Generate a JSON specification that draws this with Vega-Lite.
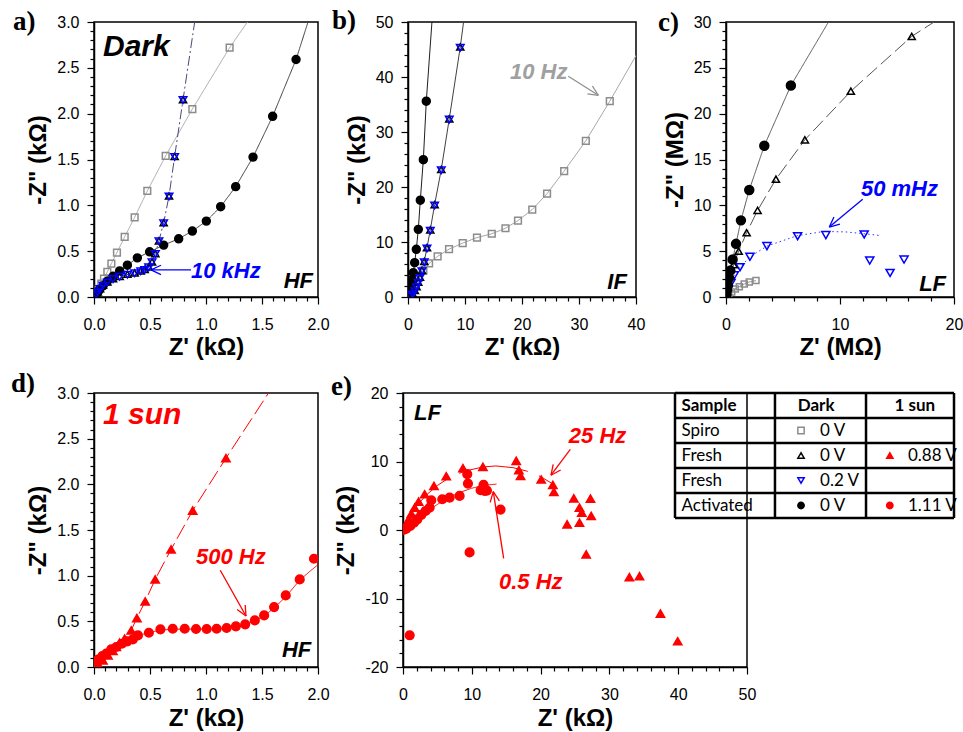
{
"$schema": "https://vega.github.io/schema/vega-lite/v6.json",
"background": "white",
"padding": {"left": 10, "top": 6, "right": 5, "bottom": 5},
"config": {
  "view": {"stroke": "black", "strokeWidth": 1.5},
  "axis": {"labelFont": "Liberation Sans", "labelFontSize": 16, "labelColor": "black", "titleFont": "Liberation Sans", "titleFontSize": 24, "titleFontWeight": "bold", "titleColor": "black", "domainColor": "black", "domainWidth": 1.5, "tickColor": "black", "tickWidth": 1.2, "labelFlush": false, "labelOverlap": false, "labelBound": false, "grid": false},
  "axisX": {"labelPadding": 12, "titlePadding": 4},
  "axisY": {"labelPadding": 8, "titlePadding": 6},
  "title": {"font": "Liberation Serif", "fontSize": 27, "fontWeight": "bold", "color": "black", "anchor": "start", "frame": "group", "baseline": "alphabetic", "offset": 0}
},
"datasets": {
  "pts": [
    {"p":"a","s":"Spiro 0V","x":1.211,"y":2.72},{"p":"a","s":"Spiro 0V","x":0.878,"y":2.05},{"p":"a","s":"Spiro 0V","x":0.64,"y":1.54},{"p":"a","s":"Spiro 0V","x":0.476,"y":1.157},{"p":"a","s":"Spiro 0V","x":0.363,"y":0.869},{"p":"a","s":"Spiro 0V","x":0.274,"y":0.657},{"p":"a","s":"Spiro 0V","x":0.205,"y":0.485},{"p":"a","s":"Spiro 0V","x":0.155,"y":0.365},{"p":"a","s":"Spiro 0V","x":0.119,"y":0.274},{"p":"a","s":"Spiro 0V","x":0.089,"y":0.2},{"p":"a","s":"Spiro 0V","x":0.065,"y":0.146},{"p":"a","s":"Spiro 0V","x":0.042,"y":0.09},{"p":"a","s":"Spiro 0V","x":0.02,"y":0.044},
    {"p":"a","s":"Activated 0V","x":1.804,"y":2.591},{"p":"a","s":"Activated 0V","x":1.595,"y":1.971},{"p":"a","s":"Activated 0V","x":1.42,"y":1.526},{"p":"a","s":"Activated 0V","x":1.265,"y":1.204},{"p":"a","s":"Activated 0V","x":1.131,"y":0.985},{"p":"a","s":"Activated 0V","x":1.003,"y":0.828},{"p":"a","s":"Activated 0V","x":0.878,"y":0.719},{"p":"a","s":"Activated 0V","x":0.756,"y":0.635},{"p":"a","s":"Activated 0V","x":0.622,"y":0.566},{"p":"a","s":"Activated 0V","x":0.497,"y":0.493},{"p":"a","s":"Activated 0V","x":0.387,"y":0.427},{"p":"a","s":"Activated 0V","x":0.298,"y":0.347},{"p":"a","s":"Activated 0V","x":0.229,"y":0.285},{"p":"a","s":"Activated 0V","x":0.17,"y":0.226},{"p":"a","s":"Activated 0V","x":0.119,"y":0.172},{"p":"a","s":"Activated 0V","x":0.08,"y":0.12},{"p":"a","s":"Activated 0V","x":0.045,"y":0.073},{"p":"a","s":"Activated 0V","x":0.024,"y":0.036},
    {"p":"a","s":"Fresh 0V","x":0.795,"y":2.153},{"p":"a","s":"Fresh 0V","x":0.72,"y":1.533},{"p":"a","s":"Fresh 0V","x":0.67,"y":1.102},{"p":"a","s":"Fresh 0V","x":0.622,"y":0.81},{"p":"a","s":"Fresh 0V","x":0.58,"y":0.613},{"p":"a","s":"Fresh 0V","x":0.548,"y":0.474},{"p":"a","s":"Fresh 0V","x":0.518,"y":0.383},{"p":"a","s":"Fresh 0V","x":0.488,"y":0.328},{"p":"a","s":"Fresh 0V","x":0.452,"y":0.3},{"p":"a","s":"Fresh 0V","x":0.417,"y":0.285},{"p":"a","s":"Fresh 0V","x":0.363,"y":0.263},{"p":"a","s":"Fresh 0V","x":0.298,"y":0.248},{"p":"a","s":"Fresh 0V","x":0.229,"y":0.226},{"p":"a","s":"Fresh 0V","x":0.17,"y":0.2},{"p":"a","s":"Fresh 0V","x":0.119,"y":0.164},{"p":"a","s":"Fresh 0V","x":0.08,"y":0.128},{"p":"a","s":"Fresh 0V","x":0.054,"y":0.091},{"p":"a","s":"Fresh 0V","x":0.033,"y":0.055},{"p":"a","s":"Fresh 0V","x":0.02,"y":0.03},
    {"p":"a","s":"Fresh 0.2V","x":0.795,"y":2.148},{"p":"a","s":"Fresh 0.2V","x":0.72,"y":1.528},{"p":"a","s":"Fresh 0.2V","x":0.67,"y":1.097},{"p":"a","s":"Fresh 0.2V","x":0.622,"y":0.805},{"p":"a","s":"Fresh 0.2V","x":0.58,"y":0.608},{"p":"a","s":"Fresh 0.2V","x":0.548,"y":0.469},{"p":"a","s":"Fresh 0.2V","x":0.518,"y":0.378},{"p":"a","s":"Fresh 0.2V","x":0.488,"y":0.323},{"p":"a","s":"Fresh 0.2V","x":0.452,"y":0.295},{"p":"a","s":"Fresh 0.2V","x":0.417,"y":0.28},{"p":"a","s":"Fresh 0.2V","x":0.363,"y":0.258},{"p":"a","s":"Fresh 0.2V","x":0.298,"y":0.243},{"p":"a","s":"Fresh 0.2V","x":0.229,"y":0.221},{"p":"a","s":"Fresh 0.2V","x":0.17,"y":0.195},{"p":"a","s":"Fresh 0.2V","x":0.119,"y":0.159},{"p":"a","s":"Fresh 0.2V","x":0.08,"y":0.123},{"p":"a","s":"Fresh 0.2V","x":0.054,"y":0.086},{"p":"a","s":"Fresh 0.2V","x":0.033,"y":0.05},{"p":"a","s":"Fresh 0.2V","x":0.02,"y":0.025},
    {"p":"b","s":"Spiro 0V","x":35.4,"y":35.6},{"p":"b","s":"Spiro 0V","x":31.2,"y":28.4},{"p":"b","s":"Spiro 0V","x":27.4,"y":22.9},{"p":"b","s":"Spiro 0V","x":24.4,"y":18.8},{"p":"b","s":"Spiro 0V","x":21.8,"y":15.9},{"p":"b","s":"Spiro 0V","x":19.3,"y":13.9},{"p":"b","s":"Spiro 0V","x":17.1,"y":12.5},{"p":"b","s":"Spiro 0V","x":14.7,"y":11.5},{"p":"b","s":"Spiro 0V","x":12.1,"y":10.8},{"p":"b","s":"Spiro 0V","x":9.6,"y":9.8},{"p":"b","s":"Spiro 0V","x":7.2,"y":8.7},{"p":"b","s":"Spiro 0V","x":5.2,"y":7.4},{"p":"b","s":"Spiro 0V","x":3.7,"y":6.1},{"p":"b","s":"Spiro 0V","x":2.7,"y":4.8},{"p":"b","s":"Spiro 0V","x":1.9,"y":3.5},{"p":"b","s":"Spiro 0V","x":1.3,"y":2.4},{"p":"b","s":"Spiro 0V","x":0.8,"y":1.4},{"p":"b","s":"Spiro 0V","x":0.4,"y":0.6},
    {"p":"b","s":"Activated 0V","x":3.21,"y":35.6},{"p":"b","s":"Activated 0V","x":2.69,"y":24.97},{"p":"b","s":"Activated 0V","x":2.16,"y":17.6},{"p":"b","s":"Activated 0V","x":1.81,"y":12.3},{"p":"b","s":"Activated 0V","x":1.46,"y":8.67},{"p":"b","s":"Activated 0V","x":1.17,"y":6.24},{"p":"b","s":"Activated 0V","x":0.93,"y":4.42},{"p":"b","s":"Activated 0V","x":0.7,"y":3.15},{"p":"b","s":"Activated 0V","x":0.53,"y":2.3},{"p":"b","s":"Activated 0V","x":0.4,"y":1.5},{"p":"b","s":"Activated 0V","x":0.23,"y":0.8},{"p":"b","s":"Activated 0V","x":0.1,"y":0.3},
    {"p":"b","s":"Fresh 0V","x":9.17,"y":45.45},{"p":"b","s":"Fresh 0V","x":7.24,"y":32.4},{"p":"b","s":"Fresh 0V","x":5.84,"y":23.2},{"p":"b","s":"Fresh 0V","x":4.67,"y":16.8},{"p":"b","s":"Fresh 0V","x":3.91,"y":12.2},{"p":"b","s":"Fresh 0V","x":3.33,"y":8.97},{"p":"b","s":"Fresh 0V","x":2.86,"y":6.48},{"p":"b","s":"Fresh 0V","x":2.45,"y":4.85},{"p":"b","s":"Fresh 0V","x":2.1,"y":3.6},{"p":"b","s":"Fresh 0V","x":1.8,"y":2.7},{"p":"b","s":"Fresh 0V","x":1.5,"y":1.9},{"p":"b","s":"Fresh 0V","x":1.2,"y":1.2},{"p":"b","s":"Fresh 0V","x":0.8,"y":0.6},{"p":"b","s":"Fresh 0V","x":0.4,"y":0.2},
    {"p":"b","s":"Fresh 0.2V","x":9.17,"y":45.3},{"p":"b","s":"Fresh 0.2V","x":7.24,"y":32.25},{"p":"b","s":"Fresh 0.2V","x":5.84,"y":23.05},{"p":"b","s":"Fresh 0.2V","x":4.67,"y":16.65},{"p":"b","s":"Fresh 0.2V","x":3.91,"y":12.05},{"p":"b","s":"Fresh 0.2V","x":3.33,"y":8.82},{"p":"b","s":"Fresh 0.2V","x":2.86,"y":6.33},{"p":"b","s":"Fresh 0.2V","x":2.45,"y":4.7},{"p":"b","s":"Fresh 0.2V","x":2.1,"y":3.45},{"p":"b","s":"Fresh 0.2V","x":1.8,"y":2.55},{"p":"b","s":"Fresh 0.2V","x":1.5,"y":1.75},{"p":"b","s":"Fresh 0.2V","x":1.2,"y":1.05},{"p":"b","s":"Fresh 0.2V","x":0.8,"y":0.45},{"p":"b","s":"Fresh 0.2V","x":0.4,"y":0.1},
    {"p":"c","s":"Spiro 0V","x":2.63,"y":1.79},{"p":"c","s":"Spiro 0V","x":2.04,"y":1.64},{"p":"c","s":"Spiro 0V","x":1.6,"y":1.42},{"p":"c","s":"Spiro 0V","x":1.17,"y":1.13},{"p":"c","s":"Spiro 0V","x":0.82,"y":0.88},{"p":"c","s":"Spiro 0V","x":0.5,"y":0.55},{"p":"c","s":"Spiro 0V","x":0.23,"y":0.26},
    {"p":"c","s":"Fresh 0.2V","x":12.12,"y":6.82},{"p":"c","s":"Fresh 0.2V","x":8.76,"y":6.75},{"p":"c","s":"Fresh 0.2V","x":6.28,"y":6.64},{"p":"c","s":"Fresh 0.2V","x":3.59,"y":5.55},{"p":"c","s":"Fresh 0.2V","x":2.1,"y":4.38},{"p":"c","s":"Fresh 0.2V","x":1.23,"y":3.25},{"p":"c","s":"Fresh 0.2V","x":0.73,"y":2.37},{"p":"c","s":"Fresh 0.2V","x":0.44,"y":1.53},{"p":"c","s":"Fresh 0.2V","x":0.2,"y":0.8},{"p":"c","s":"Fresh 0.2V","x":12.61,"y":3.98},{"p":"c","s":"Fresh 0.2V","x":14.39,"y":2.63},{"p":"c","s":"Fresh 0.2V","x":15.62,"y":4.09},
    {"p":"c","s":"Fresh 0V","x":16.29,"y":28.43},{"p":"c","s":"Fresh 0V","x":10.95,"y":22.45},{"p":"c","s":"Fresh 0V","x":6.92,"y":17.15},{"p":"c","s":"Fresh 0V","x":4.38,"y":12.85},{"p":"c","s":"Fresh 0V","x":2.77,"y":9.45},{"p":"c","s":"Fresh 0V","x":1.81,"y":7.01},{"p":"c","s":"Fresh 0V","x":1.11,"y":5.0},{"p":"c","s":"Fresh 0V","x":0.67,"y":3.54},{"p":"c","s":"Fresh 0V","x":0.38,"y":2.45},{"p":"c","s":"Fresh 0V","x":0.2,"y":1.5},{"p":"c","s":"Fresh 0V","x":0.08,"y":0.7},
    {"p":"c","s":"Activated 0V","x":5.69,"y":23.07},{"p":"c","s":"Activated 0V","x":3.36,"y":16.5},{"p":"c","s":"Activated 0V","x":2.04,"y":11.68},{"p":"c","s":"Activated 0V","x":1.31,"y":8.36},{"p":"c","s":"Activated 0V","x":0.88,"y":5.8},{"p":"c","s":"Activated 0V","x":0.58,"y":4.09},{"p":"c","s":"Activated 0V","x":0.38,"y":2.88},{"p":"c","s":"Activated 0V","x":0.23,"y":2.0},{"p":"c","s":"Activated 0V","x":0.15,"y":1.35},{"p":"c","s":"Activated 0V","x":0.09,"y":0.73},{"p":"c","s":"Activated 0V","x":0.03,"y":0.25},
    {"p":"d","s":"Fresh 0.88V","x":1.178,"y":2.286},{"p":"d","s":"Fresh 0.88V","x":0.881,"y":1.713},{"p":"d","s":"Fresh 0.88V","x":0.688,"y":1.287},{"p":"d","s":"Fresh 0.88V","x":0.546,"y":0.959},{"p":"d","s":"Fresh 0.88V","x":0.457,"y":0.718},{"p":"d","s":"Fresh 0.88V","x":0.383,"y":0.536},{"p":"d","s":"Fresh 0.88V","x":0.332,"y":0.401},{"p":"d","s":"Fresh 0.88V","x":0.273,"y":0.31},{"p":"d","s":"Fresh 0.88V","x":0.228,"y":0.266},{"p":"d","s":"Fresh 0.88V","x":0.199,"y":0.219},{"p":"d","s":"Fresh 0.88V","x":0.169,"y":0.175},{"p":"d","s":"Fresh 0.88V","x":0.125,"y":0.128},{"p":"d","s":"Fresh 0.88V","x":0.08,"y":0.073},{"p":"d","s":"Fresh 0.88V","x":0.036,"y":0.036},
    {"p":"d","s":"Activated 1.11V","x":1.964,"y":1.185},{"p":"d","s":"Activated 1.11V","x":1.837,"y":0.959},{"p":"d","s":"Activated 1.11V","x":1.712,"y":0.784},{"p":"d","s":"Activated 1.11V","x":1.608,"y":0.656},{"p":"d","s":"Activated 1.11V","x":1.519,"y":0.565},{"p":"d","s":"Activated 1.11V","x":1.436,"y":0.51},{"p":"d","s":"Activated 1.11V","x":1.35,"y":0.467},{"p":"d","s":"Activated 1.11V","x":1.267,"y":0.445},{"p":"d","s":"Activated 1.11V","x":1.184,"y":0.427},{"p":"d","s":"Activated 1.11V","x":1.095,"y":0.419},{"p":"d","s":"Activated 1.11V","x":1.006,"y":0.416},{"p":"d","s":"Activated 1.11V","x":0.911,"y":0.416},{"p":"d","s":"Activated 1.11V","x":0.81,"y":0.419},{"p":"d","s":"Activated 1.11V","x":0.703,"y":0.419},{"p":"d","s":"Activated 1.11V","x":0.593,"y":0.412},{"p":"d","s":"Activated 1.11V","x":0.49,"y":0.375},{"p":"d","s":"Activated 1.11V","x":0.392,"y":0.346},{"p":"d","s":"Activated 1.11V","x":0.347,"y":0.303},{"p":"d","s":"Activated 1.11V","x":0.297,"y":0.281},{"p":"d","s":"Activated 1.11V","x":0.249,"y":0.255},{"p":"d","s":"Activated 1.11V","x":0.199,"y":0.219},{"p":"d","s":"Activated 1.11V","x":0.154,"y":0.193},{"p":"d","s":"Activated 1.11V","x":0.11,"y":0.146},{"p":"d","s":"Activated 1.11V","x":0.074,"y":0.12},{"p":"d","s":"Activated 1.11V","x":0.036,"y":0.08},{"p":"d","s":"Activated 1.11V","x":0.012,"y":0.036},
    {"p":"e","s":"Fresh 0.88V","x":39.93,"y":-16.24},{"p":"e","s":"Fresh 0.88V","x":37.42,"y":-12.2},{"p":"e","s":"Fresh 0.88V","x":34.37,"y":-6.73},{"p":"e","s":"Fresh 0.88V","x":32.9,"y":-6.88},{"p":"e","s":"Fresh 0.88V","x":26.62,"y":-3.56},{"p":"e","s":"Fresh 0.88V","x":27.35,"y":2.05},{"p":"e","s":"Fresh 0.88V","x":27.25,"y":4.59},{"p":"e","s":"Fresh 0.88V","x":25.65,"y":3.27},{"p":"e","s":"Fresh 0.88V","x":25.99,"y":2.54},{"p":"e","s":"Fresh 0.88V","x":24.83,"y":4.63},{"p":"e","s":"Fresh 0.88V","x":25.65,"y":1.07},{"p":"e","s":"Fresh 0.88V","x":23.86,"y":0.83},{"p":"e","s":"Fresh 0.88V","x":21.93,"y":5.56},{"p":"e","s":"Fresh 0.88V","x":21.78,"y":6.59},{"p":"e","s":"Fresh 0.88V","x":20.09,"y":7.37},{"p":"e","s":"Fresh 0.88V","x":17.09,"y":7.9},{"p":"e","s":"Fresh 0.88V","x":16.84,"y":8.73},{"p":"e","s":"Fresh 0.88V","x":16.46,"y":10.1},{"p":"e","s":"Fresh 0.88V","x":11.62,"y":9.22},{"p":"e","s":"Fresh 0.88V","x":8.71,"y":9.02},{"p":"e","s":"Fresh 0.88V","x":6.29,"y":7.85},{"p":"e","s":"Fresh 0.88V","x":4.5,"y":6.44},{"p":"e","s":"Fresh 0.88V","x":3.15,"y":5.22},{"p":"e","s":"Fresh 0.88V","x":2.27,"y":4.15},{"p":"e","s":"Fresh 0.88V","x":1.69,"y":3.27},{"p":"e","s":"Fresh 0.88V","x":1.21,"y":2.39},{"p":"e","s":"Fresh 0.88V","x":0.82,"y":1.56},{"p":"e","s":"Fresh 0.88V","x":0.48,"y":0.83},{"p":"e","s":"Fresh 0.88V","x":0.15,"y":0.24},
    {"p":"e","s":"Activated 1.11V","x":0.97,"y":-15.37},{"p":"e","s":"Activated 1.11V","x":9.68,"y":-3.27},{"p":"e","s":"Activated 1.11V","x":14.18,"y":2.98},{"p":"e","s":"Activated 1.11V","x":11.86,"y":5.71},{"p":"e","s":"Activated 1.11V","x":11.71,"y":6.59},{"p":"e","s":"Activated 1.11V","x":11.28,"y":5.8},{"p":"e","s":"Activated 1.11V","x":12.2,"y":5.75},{"p":"e","s":"Activated 1.11V","x":9.44,"y":6.78},{"p":"e","s":"Activated 1.11V","x":9.34,"y":8.15},{"p":"e","s":"Activated 1.11V","x":8.23,"y":4.98},{"p":"e","s":"Activated 1.11V","x":6.78,"y":4.73},{"p":"e","s":"Activated 1.11V","x":5.71,"y":4.49},{"p":"e","s":"Activated 1.11V","x":4.11,"y":4.34},{"p":"e","s":"Activated 1.11V","x":3.87,"y":3.27},{"p":"e","s":"Activated 1.11V","x":3.29,"y":2.78},{"p":"e","s":"Activated 1.11V","x":2.66,"y":2.2},{"p":"e","s":"Activated 1.11V","x":2.08,"y":1.56},{"p":"e","s":"Activated 1.11V","x":1.6,"y":1.07},{"p":"e","s":"Activated 1.11V","x":1.06,"y":0.59},{"p":"e","s":"Activated 1.11V","x":0.48,"y":0.2},{"p":"e","s":"Activated 1.11V","x":0.15,"y":0.05}
  ],
  "fit": [
    {"p":"a","s":"Spiro 0V","x":0,"y":0},{"p":"a","s":"Spiro 0V","x":0.02,"y":0.044},{"p":"a","s":"Spiro 0V","x":0.065,"y":0.146},{"p":"a","s":"Spiro 0V","x":0.119,"y":0.274},{"p":"a","s":"Spiro 0V","x":0.155,"y":0.365},{"p":"a","s":"Spiro 0V","x":0.205,"y":0.485},{"p":"a","s":"Spiro 0V","x":0.274,"y":0.657},{"p":"a","s":"Spiro 0V","x":0.363,"y":0.869},{"p":"a","s":"Spiro 0V","x":0.476,"y":1.157},{"p":"a","s":"Spiro 0V","x":0.64,"y":1.54},{"p":"a","s":"Spiro 0V","x":0.878,"y":2.05},{"p":"a","s":"Spiro 0V","x":1.211,"y":2.72},{"p":"a","s":"Spiro 0V","x":1.37,"y":3.0},{"p":"a","s":"Spiro 0V","x":1.45,"y":3.15},
    {"p":"a","s":"Fresh 0V","x":0,"y":0},{"p":"a","s":"Fresh 0V","x":0.02,"y":0.03},{"p":"a","s":"Fresh 0V","x":0.054,"y":0.091},{"p":"a","s":"Fresh 0V","x":0.119,"y":0.164},{"p":"a","s":"Fresh 0V","x":0.229,"y":0.226},{"p":"a","s":"Fresh 0V","x":0.363,"y":0.263},{"p":"a","s":"Fresh 0V","x":0.452,"y":0.3},{"p":"a","s":"Fresh 0V","x":0.518,"y":0.383},{"p":"a","s":"Fresh 0V","x":0.548,"y":0.474},{"p":"a","s":"Fresh 0V","x":0.58,"y":0.613},{"p":"a","s":"Fresh 0V","x":0.622,"y":0.81},{"p":"a","s":"Fresh 0V","x":0.67,"y":1.102},{"p":"a","s":"Fresh 0V","x":0.72,"y":1.533},{"p":"a","s":"Fresh 0V","x":0.795,"y":2.153},{"p":"a","s":"Fresh 0V","x":0.899,"y":3.0},{"p":"a","s":"Fresh 0V","x":0.92,"y":3.2},
    {"p":"a","s":"Activated 0V","x":0,"y":0},{"p":"a","s":"Activated 0V","x":0.024,"y":0.036},{"p":"a","s":"Activated 0V","x":0.08,"y":0.12},{"p":"a","s":"Activated 0V","x":0.17,"y":0.226},{"p":"a","s":"Activated 0V","x":0.298,"y":0.347},{"p":"a","s":"Activated 0V","x":0.387,"y":0.427},{"p":"a","s":"Activated 0V","x":0.497,"y":0.493},{"p":"a","s":"Activated 0V","x":0.622,"y":0.566},{"p":"a","s":"Activated 0V","x":0.756,"y":0.635},{"p":"a","s":"Activated 0V","x":0.878,"y":0.719},{"p":"a","s":"Activated 0V","x":1.003,"y":0.828},{"p":"a","s":"Activated 0V","x":1.131,"y":0.985},{"p":"a","s":"Activated 0V","x":1.265,"y":1.204},{"p":"a","s":"Activated 0V","x":1.42,"y":1.526},{"p":"a","s":"Activated 0V","x":1.595,"y":1.971},{"p":"a","s":"Activated 0V","x":1.804,"y":2.591},{"p":"a","s":"Activated 0V","x":1.911,"y":3.0},{"p":"a","s":"Activated 0V","x":1.95,"y":3.15},
    {"p":"b","s":"Spiro 0V","x":0,"y":0},{"p":"b","s":"Spiro 0V","x":0.4,"y":0.6},{"p":"b","s":"Spiro 0V","x":0.8,"y":1.4},{"p":"b","s":"Spiro 0V","x":1.3,"y":2.4},{"p":"b","s":"Spiro 0V","x":1.9,"y":3.5},{"p":"b","s":"Spiro 0V","x":2.7,"y":4.8},{"p":"b","s":"Spiro 0V","x":3.7,"y":6.1},{"p":"b","s":"Spiro 0V","x":5.2,"y":7.4},{"p":"b","s":"Spiro 0V","x":7.2,"y":8.7},{"p":"b","s":"Spiro 0V","x":9.6,"y":9.8},{"p":"b","s":"Spiro 0V","x":12.1,"y":10.8},{"p":"b","s":"Spiro 0V","x":14.7,"y":11.5},{"p":"b","s":"Spiro 0V","x":17.1,"y":12.5},{"p":"b","s":"Spiro 0V","x":19.3,"y":13.9},{"p":"b","s":"Spiro 0V","x":21.8,"y":15.9},{"p":"b","s":"Spiro 0V","x":24.4,"y":18.8},{"p":"b","s":"Spiro 0V","x":27.4,"y":22.9},{"p":"b","s":"Spiro 0V","x":31.2,"y":28.4},{"p":"b","s":"Spiro 0V","x":35.4,"y":35.6},{"p":"b","s":"Spiro 0V","x":40,"y":43.9},{"p":"b","s":"Spiro 0V","x":42,"y":47.5},
    {"p":"b","s":"Fresh 0V","x":0,"y":0},{"p":"b","s":"Fresh 0V","x":0.4,"y":0.2},{"p":"b","s":"Fresh 0V","x":0.8,"y":0.6},{"p":"b","s":"Fresh 0V","x":1.2,"y":1.2},{"p":"b","s":"Fresh 0V","x":1.5,"y":1.9},{"p":"b","s":"Fresh 0V","x":1.8,"y":2.7},{"p":"b","s":"Fresh 0V","x":2.1,"y":3.6},{"p":"b","s":"Fresh 0V","x":2.45,"y":4.85},{"p":"b","s":"Fresh 0V","x":2.86,"y":6.48},{"p":"b","s":"Fresh 0V","x":3.33,"y":8.97},{"p":"b","s":"Fresh 0V","x":3.91,"y":12.2},{"p":"b","s":"Fresh 0V","x":4.67,"y":16.8},{"p":"b","s":"Fresh 0V","x":5.84,"y":23.2},{"p":"b","s":"Fresh 0V","x":7.24,"y":32.4},{"p":"b","s":"Fresh 0V","x":9.17,"y":45.45},{"p":"b","s":"Fresh 0V","x":9.75,"y":50},{"p":"b","s":"Fresh 0V","x":10,"y":52},
    {"p":"b","s":"Activated 0V","x":0,"y":0},{"p":"b","s":"Activated 0V","x":0.1,"y":0.3},{"p":"b","s":"Activated 0V","x":0.23,"y":0.8},{"p":"b","s":"Activated 0V","x":0.4,"y":1.5},{"p":"b","s":"Activated 0V","x":0.53,"y":2.3},{"p":"b","s":"Activated 0V","x":0.7,"y":3.15},{"p":"b","s":"Activated 0V","x":0.93,"y":4.42},{"p":"b","s":"Activated 0V","x":1.17,"y":6.24},{"p":"b","s":"Activated 0V","x":1.46,"y":8.67},{"p":"b","s":"Activated 0V","x":1.81,"y":12.3},{"p":"b","s":"Activated 0V","x":2.16,"y":17.6},{"p":"b","s":"Activated 0V","x":2.69,"y":24.97},{"p":"b","s":"Activated 0V","x":3.21,"y":35.6},{"p":"b","s":"Activated 0V","x":4.2,"y":50},{"p":"b","s":"Activated 0V","x":4.3,"y":52},
    {"p":"c","s":"Activated 0V","x":0,"y":0},{"p":"c","s":"Activated 0V","x":0.03,"y":0.25},{"p":"c","s":"Activated 0V","x":0.09,"y":0.73},{"p":"c","s":"Activated 0V","x":0.15,"y":1.35},{"p":"c","s":"Activated 0V","x":0.23,"y":2.0},{"p":"c","s":"Activated 0V","x":0.38,"y":2.88},{"p":"c","s":"Activated 0V","x":0.58,"y":4.09},{"p":"c","s":"Activated 0V","x":0.88,"y":5.8},{"p":"c","s":"Activated 0V","x":1.31,"y":8.36},{"p":"c","s":"Activated 0V","x":2.04,"y":11.68},{"p":"c","s":"Activated 0V","x":3.36,"y":16.5},{"p":"c","s":"Activated 0V","x":5.69,"y":23.07},{"p":"c","s":"Activated 0V","x":8.99,"y":30},{"p":"c","s":"Activated 0V","x":9.5,"y":31},
    {"p":"c","s":"Fresh 0V","x":0,"y":0},{"p":"c","s":"Fresh 0V","x":0.08,"y":0.7},{"p":"c","s":"Fresh 0V","x":0.2,"y":1.5},{"p":"c","s":"Fresh 0V","x":0.38,"y":2.45},{"p":"c","s":"Fresh 0V","x":0.67,"y":3.54},{"p":"c","s":"Fresh 0V","x":1.11,"y":5.0},{"p":"c","s":"Fresh 0V","x":1.81,"y":7.01},{"p":"c","s":"Fresh 0V","x":2.77,"y":9.45},{"p":"c","s":"Fresh 0V","x":4.38,"y":12.85},{"p":"c","s":"Fresh 0V","x":6.92,"y":17.15},{"p":"c","s":"Fresh 0V","x":10.95,"y":22.45},{"p":"c","s":"Fresh 0V","x":16.29,"y":28.43},{"p":"c","s":"Fresh 0V","x":18.25,"y":30},{"p":"c","s":"Fresh 0V","x":19,"y":30.6},
    {"p":"c","s":"Fresh 0.2V","x":0,"y":0},{"p":"c","s":"Fresh 0.2V","x":0.2,"y":0.8},{"p":"c","s":"Fresh 0.2V","x":0.44,"y":1.53},{"p":"c","s":"Fresh 0.2V","x":0.73,"y":2.37},{"p":"c","s":"Fresh 0.2V","x":1.23,"y":3.25},{"p":"c","s":"Fresh 0.2V","x":2.1,"y":4.38},{"p":"c","s":"Fresh 0.2V","x":3.59,"y":5.55},{"p":"c","s":"Fresh 0.2V","x":6.28,"y":6.7},{"p":"c","s":"Fresh 0.2V","x":8.6,"y":7.15},{"p":"c","s":"Fresh 0.2V","x":10.5,"y":7.1},{"p":"c","s":"Fresh 0.2V","x":12.12,"y":6.9},{"p":"c","s":"Fresh 0.2V","x":13.6,"y":6.7},
    {"p":"c","s":"Spiro 0V","x":0,"y":0},{"p":"c","s":"Spiro 0V","x":0.23,"y":0.26},{"p":"c","s":"Spiro 0V","x":0.5,"y":0.55},{"p":"c","s":"Spiro 0V","x":0.82,"y":0.88},{"p":"c","s":"Spiro 0V","x":1.17,"y":1.13},{"p":"c","s":"Spiro 0V","x":1.6,"y":1.42},{"p":"c","s":"Spiro 0V","x":2.04,"y":1.64},{"p":"c","s":"Spiro 0V","x":2.63,"y":1.79},
    {"p":"d","s":"Fresh 0.88V","x":0.2,"y":0.2},{"p":"d","s":"Fresh 0.88V","x":0.273,"y":0.31},{"p":"d","s":"Fresh 0.88V","x":0.332,"y":0.401},{"p":"d","s":"Fresh 0.88V","x":0.383,"y":0.536},{"p":"d","s":"Fresh 0.88V","x":0.457,"y":0.718},{"p":"d","s":"Fresh 0.88V","x":0.546,"y":0.959},{"p":"d","s":"Fresh 0.88V","x":0.688,"y":1.287},{"p":"d","s":"Fresh 0.88V","x":0.881,"y":1.713},{"p":"d","s":"Fresh 0.88V","x":1.178,"y":2.286},{"p":"d","s":"Fresh 0.88V","x":1.558,"y":3.0},{"p":"d","s":"Fresh 0.88V","x":1.6,"y":3.08},
    {"p":"d","s":"Activated 1.11V","x":0,"y":0},{"p":"d","s":"Activated 1.11V","x":0.036,"y":0.08},{"p":"d","s":"Activated 1.11V","x":0.11,"y":0.146},{"p":"d","s":"Activated 1.11V","x":0.199,"y":0.219},{"p":"d","s":"Activated 1.11V","x":0.297,"y":0.281},{"p":"d","s":"Activated 1.11V","x":0.392,"y":0.346},{"p":"d","s":"Activated 1.11V","x":0.49,"y":0.375},{"p":"d","s":"Activated 1.11V","x":0.593,"y":0.405},{"p":"d","s":"Activated 1.11V","x":0.703,"y":0.413},{"p":"d","s":"Activated 1.11V","x":0.81,"y":0.415},{"p":"d","s":"Activated 1.11V","x":0.911,"y":0.414},{"p":"d","s":"Activated 1.11V","x":1.006,"y":0.414},{"p":"d","s":"Activated 1.11V","x":1.095,"y":0.418},{"p":"d","s":"Activated 1.11V","x":1.184,"y":0.425},{"p":"d","s":"Activated 1.11V","x":1.267,"y":0.44},{"p":"d","s":"Activated 1.11V","x":1.35,"y":0.465},{"p":"d","s":"Activated 1.11V","x":1.436,"y":0.505},{"p":"d","s":"Activated 1.11V","x":1.519,"y":0.56},{"p":"d","s":"Activated 1.11V","x":1.608,"y":0.645},{"p":"d","s":"Activated 1.11V","x":1.712,"y":0.77},{"p":"d","s":"Activated 1.11V","x":1.837,"y":0.95},{"p":"d","s":"Activated 1.11V","x":1.92,"y":1.04},{"p":"d","s":"Activated 1.11V","x":2.0,"y":1.12},{"p":"d","s":"Activated 1.11V","x":2.1,"y":1.25},
    {"p":"e","s":"Fresh 0.88V","x":0,"y":0},{"p":"e","s":"Fresh 0.88V","x":0.5,"y":1.0},{"p":"e","s":"Fresh 0.88V","x":1.2,"y":2.3},{"p":"e","s":"Fresh 0.88V","x":2.2,"y":3.8},{"p":"e","s":"Fresh 0.88V","x":3.5,"y":5.2},{"p":"e","s":"Fresh 0.88V","x":5,"y":6.5},{"p":"e","s":"Fresh 0.88V","x":7,"y":7.8},{"p":"e","s":"Fresh 0.88V","x":9,"y":8.6},{"p":"e","s":"Fresh 0.88V","x":11.6,"y":9.2},{"p":"e","s":"Fresh 0.88V","x":13.5,"y":9.35},{"p":"e","s":"Fresh 0.88V","x":16,"y":9.1},{"p":"e","s":"Fresh 0.88V","x":18,"y":8.6},{"p":"e","s":"Fresh 0.88V","x":20,"y":7.8},{"p":"e","s":"Fresh 0.88V","x":21.8,"y":6.7},
    {"p":"e","s":"Activated 1.11V","x":0,"y":0},{"p":"e","s":"Activated 1.11V","x":0.5,"y":0.25},{"p":"e","s":"Activated 1.11V","x":1.5,"y":0.9},{"p":"e","s":"Activated 1.11V","x":3,"y":2.2},{"p":"e","s":"Activated 1.11V","x":4.5,"y":3.4},{"p":"e","s":"Activated 1.11V","x":6,"y":4.4},{"p":"e","s":"Activated 1.11V","x":8,"y":5.4},{"p":"e","s":"Activated 1.11V","x":10,"y":6.1},{"p":"e","s":"Activated 1.11V","x":12,"y":6.55},{"p":"e","s":"Activated 1.11V","x":13.6,"y":6.7}
  ],
  "ann": [
    {"p":"a","k":"big","t":"Dark","x":0.08,"y":2.63},{"p":"a","k":"tag","t":"HF","x":1.955,"y":0.1},{"p":"a","k":"freq","t":"10 kHz","x":0.866,"y":0.208},
    {"p":"b","k":"tag","t":"IF","x":38.4,"y":1.45},{"p":"b","k":"freq","t":"10 Hz","x":17.9,"y":39.6},
    {"p":"c","k":"tag","t":"LF","x":19.3,"y":0.66},{"p":"c","k":"freq","t":"50 mHz","x":11.84,"y":11.06},
    {"p":"d","k":"big","t":"1 sun","x":0.08,"y":2.66},{"p":"d","k":"tag","t":"HF","x":1.94,"y":0.11},{"p":"d","k":"freq","t":"500 Hz","x":0.91,"y":1.13},
    {"p":"e","k":"tag","t":"LF","x":1.6,"y":16.06},{"p":"e","k":"freq","t":"25 Hz","x":24.1,"y":12.7},{"p":"e","k":"freq","t":"0.5 Hz","x":13.95,"y":-8.6}
  ],
  "arr": [
    {"p":"a","x":0.866,"y":0.296,"x2":0.509,"y2":0.296},{"p":"a","x":0.509,"y":0.296,"x2":0.598,"y2":0.346},{"p":"a","x":0.509,"y":0.296,"x2":0.598,"y2":0.245},
    {"p":"b","x":28.12,"y":40.13,"x2":33.39,"y2":36.67},{"p":"b","x":33.39,"y":36.67,"x2":32.35,"y2":38.36},{"p":"b","x":33.39,"y":36.67,"x2":31.47,"y2":36.93},
    {"p":"c","x":11.99,"y":10.66,"x2":9.06,"y2":7.63},{"p":"c","x":9.06,"y":7.63,"x2":9.99,"y2":7.94},{"p":"c","x":9.06,"y":7.63,"x2":9.47,"y2":8.72},
    {"p":"d","x":1.127,"y":1.059,"x2":1.357,"y2":0.559},{"p":"d","x":1.357,"y":0.559,"x2":1.35,"y2":0.679},{"p":"d","x":1.357,"y":0.559,"x2":1.278,"y2":0.629},
    {"p":"e","x":24.32,"y":11.78,"x2":21.51,"y2":8.0},{"p":"e","x":21.51,"y":8.0,"x2":22.92,"y2":8.76},{"p":"e","x":21.51,"y":8.0,"x2":21.83,"y2":9.58},
    {"p":"e","x":14.63,"y":-4.13,"x2":13.12,"y2":5.6},{"p":"e","x":13.12,"y":5.6,"x2":12.67,"y2":4.04},{"p":"e","x":13.12,"y":5.6,"x2":14.01,"y2":4.26}
  ],
  "tgrid": [
    {"x":0,"x2":3,"y":0,"y2":0},{"x":0,"x2":3,"y":1,"y2":1},{"x":0,"x2":3,"y":2,"y2":2},{"x":0,"x2":3,"y":3,"y2":3},{"x":0,"x2":3,"y":4,"y2":4},{"x":0,"x2":3,"y":5,"y2":5},
    {"x":0,"x2":0,"y":0,"y2":5},{"x":1.075,"x2":1.075,"y":0,"y2":5},{"x":2.054,"x2":2.054,"y":0,"y2":5},{"x":3,"x2":3,"y":0,"y2":5}
  ],
  "thead": [
    {"t":"Sample","x":0.07,"y":0.5},{"t":"Dark","x":1.32,"y":0.5},{"t":"1 sun","x":2.36,"y":0.5}
  ],
  "ttext": [
    {"t":"Spiro","x":0.07,"y":1.5},{"t":"Fresh","x":0.07,"y":2.5},{"t":"Fresh","x":0.07,"y":3.5},{"t":"Activated","x":0.07,"y":4.5},
    {"t":"0 V","x":1.56,"y":1.5},{"t":"0 V","x":1.56,"y":2.5},{"t":"0.2 V","x":1.56,"y":3.5},{"t":"0 V","x":1.56,"y":4.5},
    {"t":"0.88 V","x":2.505,"y":2.5},{"t":"1.11 V","x":2.505,"y":4.5}
  ],
  "tsym": [
    {"s":"Spiro 0V","x":1.355,"y":1.5},{"s":"Fresh 0V","x":1.355,"y":2.5},{"s":"Fresh 0.2V","x":1.355,"y":3.5},{"s":"Activated 0V","x":1.355,"y":4.5},{"s":"Fresh 0.88V","x":2.31,"y":2.5},{"s":"Activated 1.11V","x":2.31,"y":4.5}
  ]
},
"spacing": 9,
"resolve": {"scale": {"color": "independent", "strokeDash": "independent", "size": "independent", "shape": "independent", "fill": "independent", "stroke": "independent"}},
"vconcat": [
 {"spacing": 90, "bounds": "flush",
  "resolve": {"scale": {"color": "independent", "strokeDash": "independent", "size": "independent", "shape": "independent", "fill": "independent", "stroke": "independent"}},
  "hconcat": [
  {
   "width": 224, "height": 275,
   "title": {"text": "a)", "dx": -81, "dy": 26},
   "encoding": {
    "x": {"field": "x", "type": "quantitative", "scale": {"domain": [0, 2], "nice": false}, "axis": {"title": "Z'  (kΩ)", "titlePadding": 3, "values": [0,0.1,0.2,0.3,0.4,0.5,0.6,0.7,0.8,0.9,1,1.1,1.2,1.3,1.4,1.5,1.6,1.7,1.8,1.9,2], "labelExpr": "round(datum.value*10)%5===0 ? format(datum.value,'.1f') : ''", "tickSize": {"condition": {"test": "round(datum.value*10)%5===0", "value": 7}, "value": 4}}},
    "y": {"field": "y", "type": "quantitative", "scale": {"domain": [0, 3], "nice": false}, "axis": {"title": "-Z\"  (kΩ)", "values": [0,0.1,0.2,0.3,0.4,0.5,0.6,0.7,0.8,0.9,1,1.1,1.2,1.3,1.4,1.5,1.6,1.7,1.8,1.9,2,2.1,2.2,2.3,2.4,2.5,2.6,2.7,2.8,2.9,3], "labelExpr": "round(datum.value*10)%5===0 ? format(datum.value,'.1f') : ''", "tickSize": {"condition": {"test": "round(datum.value*10)%5===0", "value": 7}, "value": 4}}}
   },
   "layer": [
    {"data": {"name": "fit"}, "transform": [{"filter": "datum.p==='a'"}], "mark": {"type": "line", "clip": true, "strokeWidth": 1},
     "encoding": {"color": {"field": "s", "type": "nominal", "scale": {"domain": ["Spiro 0V","Fresh 0V","Activated 0V"], "range": ["#a8a8a8","#4a4a78","#3a3a3a"]}, "legend": null},
                  "strokeDash": {"field": "s", "type": "nominal", "scale": {"domain": ["Spiro 0V","Fresh 0V","Activated 0V"], "range": [[1,0],[10,3,2,3],[1,0]]}, "legend": null}}},
    {"data": {"name": "pts"}, "transform": [{"filter": "datum.p==='a'"}], "mark": {"type": "point", "opacity": 1, "strokeWidth": 1.5, "clip": true},
     "encoding": {
      "shape": {"field": "s", "type": "nominal", "scale": {"domain": ["Spiro 0V","Fresh 0V","Fresh 0.2V","Activated 0V","Fresh 0.88V","Activated 1.11V"], "range": ["square","triangle-up","triangle-down","circle","triangle-up","circle"]}, "legend": null},
      "fill": {"field": "s", "type": "nominal", "scale": {"domain": ["Spiro 0V","Fresh 0V","Fresh 0.2V","Activated 0V","Fresh 0.88V","Activated 1.11V"], "range": ["transparent","transparent","transparent","black","red","red"]}, "legend": null},
      "stroke": {"field": "s", "type": "nominal", "scale": {"domain": ["Spiro 0V","Fresh 0V","Fresh 0.2V","Activated 0V","Fresh 0.88V","Activated 1.11V"], "range": ["#8c8c8c","black","blue","black","red","red"]}, "legend": null},
      "size": {"field": "s", "type": "ordinal", "scale": {"domain": ["Spiro 0V","Fresh 0V","Fresh 0.2V","Activated 0V","Fresh 0.88V","Activated 1.11V"], "range": [45,75,40,85,85,90]}, "legend": null}}},
    {"data": {"name": "ann"}, "transform": [{"filter": "datum.p==='a' && datum.k==='big'"}], "mark": {"type": "text", "font": "Liberation Sans", "fontSize": 30, "fontWeight": "bold", "fontStyle": "italic", "align": "left", "baseline": "alphabetic", "color": "black"}, "encoding": {"text": {"field": "t"}}},
    {"data": {"name": "ann"}, "transform": [{"filter": "datum.p==='a' && datum.k==='tag'"}], "mark": {"type": "text", "font": "Liberation Sans", "fontSize": 22, "fontWeight": "bold", "fontStyle": "italic", "align": "right", "baseline": "alphabetic", "color": "black"}, "encoding": {"text": {"field": "t"}}},
    {"data": {"name": "ann"}, "transform": [{"filter": "datum.p==='a' && datum.k==='freq'"}], "mark": {"type": "text", "font": "Liberation Sans", "fontSize": 22, "fontWeight": "bold", "fontStyle": "italic", "align": "left", "baseline": "alphabetic", "color": "blue"}, "encoding": {"text": {"field": "t"}}},
    {"data": {"name": "arr"}, "transform": [{"filter": "datum.p==='a'"}], "mark": {"type": "rule", "color": "blue", "strokeWidth": 1.3}, "encoding": {"x2": {"field": "x2"}, "y2": {"field": "y2"}}}
   ]
  },
  {
   "width": 228, "height": 275,
   "title": {"text": "b)", "dx": -76, "dy": 25},
   "encoding": {
    "x": {"field": "x", "type": "quantitative", "scale": {"domain": [0, 40], "nice": false}, "axis": {"title": "Z'  (kΩ)", "titlePadding": 3, "values": [0,2,4,6,8,10,12,14,16,18,20,22,24,26,28,30,32,34,36,38,40], "labelExpr": "datum.value%10===0 ? ''+datum.value : ''", "tickSize": {"condition": {"test": "datum.value%10===0", "value": 7}, "value": 4}}},
    "y": {"field": "y", "type": "quantitative", "scale": {"domain": [0, 50], "nice": false}, "axis": {"title": "-Z\"  (kΩ)", "values": [0,2,4,6,8,10,12,14,16,18,20,22,24,26,28,30,32,34,36,38,40,42,44,46,48,50], "labelExpr": "datum.value%10===0 ? ''+datum.value : ''", "tickSize": {"condition": {"test": "datum.value%10===0", "value": 7}, "value": 4}}}
   },
   "layer": [
    {"data": {"name": "fit"}, "transform": [{"filter": "datum.p==='b'"}], "mark": {"type": "line", "clip": true, "strokeWidth": 1},
     "encoding": {"color": {"field": "s", "type": "nominal", "scale": {"domain": ["Spiro 0V","Fresh 0V","Activated 0V"], "range": ["#a8a8a8","#404040","#202020"]}, "legend": null}}},
    {"data": {"name": "pts"}, "transform": [{"filter": "datum.p==='b'"}], "mark": {"type": "point", "opacity": 1, "strokeWidth": 1.5, "clip": true},
     "encoding": {
      "shape": {"field": "s", "type": "nominal", "scale": {"domain": ["Spiro 0V","Fresh 0V","Fresh 0.2V","Activated 0V","Fresh 0.88V","Activated 1.11V"], "range": ["square","triangle-up","triangle-down","circle","triangle-up","circle"]}, "legend": null},
      "fill": {"field": "s", "type": "nominal", "scale": {"domain": ["Spiro 0V","Fresh 0V","Fresh 0.2V","Activated 0V","Fresh 0.88V","Activated 1.11V"], "range": ["transparent","transparent","transparent","black","red","red"]}, "legend": null},
      "stroke": {"field": "s", "type": "nominal", "scale": {"domain": ["Spiro 0V","Fresh 0V","Fresh 0.2V","Activated 0V","Fresh 0.88V","Activated 1.11V"], "range": ["#8c8c8c","black","blue","black","red","red"]}, "legend": null},
      "size": {"field": "s", "type": "ordinal", "scale": {"domain": ["Spiro 0V","Fresh 0V","Fresh 0.2V","Activated 0V","Fresh 0.88V","Activated 1.11V"], "range": [45,75,40,65,85,90]}, "legend": null}}},
    {"data": {"name": "ann"}, "transform": [{"filter": "datum.p==='b' && datum.k==='tag'"}], "mark": {"type": "text", "font": "Liberation Sans", "fontSize": 22, "fontWeight": "bold", "fontStyle": "italic", "align": "right", "baseline": "alphabetic", "color": "black"}, "encoding": {"text": {"field": "t"}}},
    {"data": {"name": "ann"}, "transform": [{"filter": "datum.p==='b' && datum.k==='freq'"}], "mark": {"type": "text", "font": "Liberation Sans", "fontSize": 22, "fontWeight": "bold", "fontStyle": "italic", "align": "left", "baseline": "alphabetic", "color": "#a0a0a0"}, "encoding": {"text": {"field": "t"}}},
    {"data": {"name": "arr"}, "transform": [{"filter": "datum.p==='b'"}], "mark": {"type": "rule", "color": "#909090", "strokeWidth": 1.3}, "encoding": {"x2": {"field": "x2"}, "y2": {"field": "y2"}}}
   ]
  },
  {
   "width": 228, "height": 275,
   "title": {"text": "c)", "dx": -68, "dy": 27},
   "encoding": {
    "x": {"field": "x", "type": "quantitative", "scale": {"domain": [0, 20], "nice": false}, "axis": {"title": "Z'  (MΩ)", "titlePadding": 3, "values": [0,2,4,6,8,10,12,14,16,18,20], "labelExpr": "datum.value%10===0 ? ''+datum.value : ''", "tickSize": {"condition": {"test": "datum.value%10===0", "value": 7}, "value": 4}}},
    "y": {"field": "y", "type": "quantitative", "scale": {"domain": [0, 30], "nice": false}, "axis": {"title": "-Z\"  (MΩ)", "values": [0,1,2,3,4,5,6,7,8,9,10,11,12,13,14,15,16,17,18,19,20,21,22,23,24,25,26,27,28,29,30], "labelExpr": "datum.value%5===0 ? ''+datum.value : ''", "tickSize": {"condition": {"test": "datum.value%5===0", "value": 7}, "value": 4}}}
   },
   "layer": [
    {"data": {"name": "fit"}, "transform": [{"filter": "datum.p==='c'"}], "mark": {"type": "line", "clip": true, "strokeWidth": 1},
     "encoding": {"color": {"field": "s", "type": "nominal", "scale": {"domain": ["Spiro 0V","Fresh 0V","Fresh 0.2V","Activated 0V"], "range": ["#8c8c8c","#555555","#3333ff","#555555"]}, "legend": null},
                  "strokeDash": {"field": "s", "type": "nominal", "scale": {"domain": ["Spiro 0V","Fresh 0V","Fresh 0.2V","Activated 0V"], "range": [[1,0],[14,5],[1.5,3],[1,0]]}, "legend": null}}},
    {"data": {"name": "pts"}, "transform": [{"filter": "datum.p==='c'"}], "mark": {"type": "point", "opacity": 1, "strokeWidth": 1.5, "clip": true},
     "encoding": {
      "shape": {"field": "s", "type": "nominal", "scale": {"domain": ["Spiro 0V","Fresh 0V","Fresh 0.2V","Activated 0V","Fresh 0.88V","Activated 1.11V"], "range": ["square","triangle-up","triangle-down","circle","triangle-up","circle"]}, "legend": null},
      "fill": {"field": "s", "type": "nominal", "scale": {"domain": ["Spiro 0V","Fresh 0V","Fresh 0.2V","Activated 0V","Fresh 0.88V","Activated 1.11V"], "range": ["transparent","transparent","transparent","black","red","red"]}, "legend": null},
      "stroke": {"field": "s", "type": "nominal", "scale": {"domain": ["Spiro 0V","Fresh 0V","Fresh 0.2V","Activated 0V","Fresh 0.88V","Activated 1.11V"], "range": ["#8c8c8c","black","blue","black","red","red"]}, "legend": null},
      "size": {"field": "s", "type": "ordinal", "scale": {"domain": ["Spiro 0V","Fresh 0V","Fresh 0.2V","Activated 0V","Fresh 0.88V","Activated 1.11V"], "range": [36,110,50,70,85,90]}, "legend": null}}},
    {"data": {"name": "ann"}, "transform": [{"filter": "datum.p==='c' && datum.k==='tag'"}], "mark": {"type": "text", "font": "Liberation Sans", "fontSize": 22, "fontWeight": "bold", "fontStyle": "italic", "align": "right", "baseline": "alphabetic", "color": "black"}, "encoding": {"text": {"field": "t"}}},
    {"data": {"name": "ann"}, "transform": [{"filter": "datum.p==='c' && datum.k==='freq'"}], "mark": {"type": "text", "font": "Liberation Sans", "fontSize": 22, "fontWeight": "bold", "fontStyle": "italic", "align": "left", "baseline": "alphabetic", "color": "blue"}, "encoding": {"text": {"field": "t"}}},
    {"data": {"name": "arr"}, "transform": [{"filter": "datum.p==='c'"}], "mark": {"type": "rule", "color": "blue", "strokeWidth": 1.3}, "encoding": {"x2": {"field": "x2"}, "y2": {"field": "y2"}}}
   ]
  }
 ]},
 {"spacing": 85, "bounds": "flush",
  "resolve": {"scale": {"color": "independent", "strokeDash": "independent", "size": "independent", "shape": "independent", "fill": "independent", "stroke": "independent"}},
  "hconcat": [
  {
   "width": 224, "height": 274,
   "title": {"text": "d)", "dx": -83, "dy": 17},
   "encoding": {
    "x": {"field": "x", "type": "quantitative", "scale": {"domain": [0, 2], "nice": false}, "axis": {"title": "Z'  (kΩ)", "values": [0,0.1,0.2,0.3,0.4,0.5,0.6,0.7,0.8,0.9,1,1.1,1.2,1.3,1.4,1.5,1.6,1.7,1.8,1.9,2], "labelExpr": "round(datum.value*10)%5===0 ? format(datum.value,'.1f') : ''", "tickSize": {"condition": {"test": "round(datum.value*10)%5===0", "value": 7}, "value": 4}}},
    "y": {"field": "y", "type": "quantitative", "scale": {"domain": [0, 3], "nice": false}, "axis": {"title": "-Z\"  (kΩ)", "values": [0,0.1,0.2,0.3,0.4,0.5,0.6,0.7,0.8,0.9,1,1.1,1.2,1.3,1.4,1.5,1.6,1.7,1.8,1.9,2,2.1,2.2,2.3,2.4,2.5,2.6,2.7,2.8,2.9,3], "labelExpr": "round(datum.value*10)%5===0 ? format(datum.value,'.1f') : ''", "tickSize": {"condition": {"test": "round(datum.value*10)%5===0", "value": 7}, "value": 4}}}
   },
   "layer": [
    {"data": {"name": "fit"}, "transform": [{"filter": "datum.p==='d'"}], "mark": {"type": "line", "clip": true, "strokeWidth": 1},
     "encoding": {"color": {"field": "s", "type": "nominal", "scale": {"domain": ["Fresh 0.88V","Activated 1.11V"], "range": ["red","red"]}, "legend": null},
                  "strokeDash": {"field": "s", "type": "nominal", "scale": {"domain": ["Fresh 0.88V","Activated 1.11V"], "range": [[16,5],[1,0]]}, "legend": null}}},
    {"data": {"name": "pts"}, "transform": [{"filter": "datum.p==='d'"}], "mark": {"type": "point", "opacity": 1, "strokeWidth": 1.5, "clip": true},
     "encoding": {
      "shape": {"field": "s", "type": "nominal", "scale": {"domain": ["Spiro 0V","Fresh 0V","Fresh 0.2V","Activated 0V","Fresh 0.88V","Activated 1.11V"], "range": ["square","triangle-up","triangle-down","circle","triangle-up","circle"]}, "legend": null},
      "fill": {"field": "s", "type": "nominal", "scale": {"domain": ["Spiro 0V","Fresh 0V","Fresh 0.2V","Activated 0V","Fresh 0.88V","Activated 1.11V"], "range": ["transparent","transparent","transparent","black","red","red"]}, "legend": null},
      "stroke": {"field": "s", "type": "nominal", "scale": {"domain": ["Spiro 0V","Fresh 0V","Fresh 0.2V","Activated 0V","Fresh 0.88V","Activated 1.11V"], "range": ["#8c8c8c","black","blue","black","red","red"]}, "legend": null},
      "size": {"field": "s", "type": "ordinal", "scale": {"domain": ["Spiro 0V","Fresh 0V","Fresh 0.2V","Activated 0V","Fresh 0.88V","Activated 1.11V"], "range": [45,75,40,85,85,95]}, "legend": null}}},
    {"data": {"name": "ann"}, "transform": [{"filter": "datum.p==='d' && datum.k==='big'"}], "mark": {"type": "text", "font": "Liberation Sans", "fontSize": 30, "fontWeight": "bold", "fontStyle": "italic", "align": "left", "baseline": "alphabetic", "color": "red"}, "encoding": {"text": {"field": "t"}}},
    {"data": {"name": "ann"}, "transform": [{"filter": "datum.p==='d' && datum.k==='tag'"}], "mark": {"type": "text", "font": "Liberation Sans", "fontSize": 22, "fontWeight": "bold", "fontStyle": "italic", "align": "right", "baseline": "alphabetic", "color": "black"}, "encoding": {"text": {"field": "t"}}},
    {"data": {"name": "ann"}, "transform": [{"filter": "datum.p==='d' && datum.k==='freq'"}], "mark": {"type": "text", "font": "Liberation Sans", "fontSize": 22, "fontWeight": "bold", "fontStyle": "italic", "align": "left", "baseline": "alphabetic", "color": "red"}, "encoding": {"text": {"field": "t"}}},
    {"data": {"name": "arr"}, "transform": [{"filter": "datum.p==='d'"}], "mark": {"type": "rule", "color": "red", "strokeWidth": 1.3}, "encoding": {"x2": {"field": "x2"}, "y2": {"field": "y2"}}}
   ]
  },
  {
   "width": 344, "height": 274,
   "title": {"text": "e)", "dx": -72, "dy": 20},
   "resolve": {"scale": {"x": "independent", "y": "independent"}},
   "layer": [
    {
     "encoding": {
      "x": {"field": "x", "type": "quantitative", "scale": {"domain": [0, 50], "nice": false}, "axis": {"title": "Z'  (kΩ)", "values": [0,2,4,6,8,10,12,14,16,18,20,22,24,26,28,30,32,34,36,38,40,42,44,46,48,50], "labelExpr": "datum.value%10===0 ? ''+datum.value : ''", "tickSize": {"condition": {"test": "datum.value%10===0", "value": 7}, "value": 4}}},
      "y": {"field": "y", "type": "quantitative", "scale": {"domain": [-20, 20], "nice": false}, "axis": {"title": "-Z\"  (kΩ)", "values": [-20,-18,-16,-14,-12,-10,-8,-6,-4,-2,0,2,4,6,8,10,12,14,16,18,20], "labelExpr": "datum.value%10===0 ? ''+datum.value : ''", "tickSize": {"condition": {"test": "datum.value%10===0", "value": 7}, "value": 4}}}
     },
     "layer": [
      {"data": {"values": [{}]}, "mark": {"type": "rule", "color": "#8a8a8a", "strokeWidth": 1.5}, "encoding": {"x": {"datum": 0}, "x2": {"datum": 50}, "y": {"datum": 0}}},
      {"data": {"name": "fit"}, "transform": [{"filter": "datum.p==='e'"}], "mark": {"type": "line", "clip": true, "strokeWidth": 1},
       "encoding": {"color": {"field": "s", "type": "nominal", "scale": {"domain": ["Fresh 0.88V","Activated 1.11V"], "range": ["red","red"]}, "legend": null},
                    "strokeDash": {"field": "s", "type": "nominal", "scale": {"domain": ["Fresh 0.88V","Activated 1.11V"], "range": [[70,12],[1,0]]}, "legend": null}}},
      {"data": {"name": "pts"}, "transform": [{"filter": "datum.p==='e'"}], "mark": {"type": "point", "opacity": 1, "strokeWidth": 1.5, "clip": true},
       "encoding": {
        "shape": {"field": "s", "type": "nominal", "scale": {"domain": ["Spiro 0V","Fresh 0V","Fresh 0.2V","Activated 0V","Fresh 0.88V","Activated 1.11V"], "range": ["square","triangle-up","triangle-down","circle","triangle-up","circle"]}, "legend": null},
        "fill": {"field": "s", "type": "nominal", "scale": {"domain": ["Spiro 0V","Fresh 0V","Fresh 0.2V","Activated 0V","Fresh 0.88V","Activated 1.11V"], "range": ["transparent","transparent","transparent","black","red","red"]}, "legend": null},
        "stroke": {"field": "s", "type": "nominal", "scale": {"domain": ["Spiro 0V","Fresh 0V","Fresh 0.2V","Activated 0V","Fresh 0.88V","Activated 1.11V"], "range": ["#8c8c8c","black","blue","black","red","red"]}, "legend": null},
        "size": {"field": "s", "type": "ordinal", "scale": {"domain": ["Spiro 0V","Fresh 0V","Fresh 0.2V","Activated 0V","Fresh 0.88V","Activated 1.11V"], "range": [45,75,40,85,80,90]}, "legend": null}}},
      {"data": {"name": "ann"}, "transform": [{"filter": "datum.p==='e' && datum.k==='tag'"}], "mark": {"type": "text", "font": "Liberation Sans", "fontSize": 22, "fontWeight": "bold", "fontStyle": "italic", "align": "left", "baseline": "alphabetic", "color": "black"}, "encoding": {"text": {"field": "t"}}},
      {"data": {"name": "ann"}, "transform": [{"filter": "datum.p==='e' && datum.k==='freq'"}], "mark": {"type": "text", "font": "Liberation Sans", "fontSize": 22, "fontWeight": "bold", "fontStyle": "italic", "align": "left", "baseline": "alphabetic", "color": "red"}, "encoding": {"text": {"field": "t"}}},
      {"data": {"name": "arr"}, "transform": [{"filter": "datum.p==='e'"}], "mark": {"type": "rule", "color": "red", "strokeWidth": 1.3}, "encoding": {"x2": {"field": "x2"}, "y2": {"field": "y2"}}}
     ]
    },
    {
     "encoding": {
      "x": {"field": "x", "type": "quantitative", "scale": {"domain": [0, 3], "range": [272, 551]}, "axis": null},
      "y": {"field": "y", "type": "quantitative", "scale": {"domain": [0, 5], "range": [0, 125]}, "axis": null}
     },
     "layer": [
      {"data": {"values": [{}]}, "mark": {"type": "rect", "fill": "white"}, "encoding": {"x": {"datum": 0}, "x2": {"datum": 3}, "y": {"datum": 0}, "y2": {"datum": 5}}},
      {"data": {"name": "tgrid"}, "mark": {"type": "rule", "color": "black", "strokeWidth": 2.5}, "encoding": {"x2": {"field": "x2"}, "y2": {"field": "y2"}}},
      {"data": {"name": "thead"}, "mark": {"type": "text", "font": "Lato", "fontSize": 17, "fontWeight": "bold", "align": "left", "baseline": "middle", "color": "black"}, "encoding": {"text": {"field": "t"}}},
      {"data": {"name": "ttext"}, "mark": {"type": "text", "font": "Lato", "fontSize": 17, "align": "left", "baseline": "middle", "color": "black"}, "encoding": {"text": {"field": "t"}}},
      {"data": {"name": "tsym"}, "mark": {"type": "point", "opacity": 1, "strokeWidth": 1.5, "size": 40},
       "encoding": {
        "shape": {"field": "s", "type": "nominal", "scale": {"domain": ["Spiro 0V","Fresh 0V","Fresh 0.2V","Activated 0V","Fresh 0.88V","Activated 1.11V"], "range": ["square","triangle-up","triangle-down","circle","triangle-up","circle"]}, "legend": null},
        "fill": {"field": "s", "type": "nominal", "scale": {"domain": ["Spiro 0V","Fresh 0V","Fresh 0.2V","Activated 0V","Fresh 0.88V","Activated 1.11V"], "range": ["transparent","transparent","transparent","black","red","red"]}, "legend": null},
        "stroke": {"field": "s", "type": "nominal", "scale": {"domain": ["Spiro 0V","Fresh 0V","Fresh 0.2V","Activated 0V","Fresh 0.88V","Activated 1.11V"], "range": ["#8c8c8c","black","blue","black","red","red"]}, "legend": null}}}
     ]
    }
   ]
  }
 ]}
]
}
